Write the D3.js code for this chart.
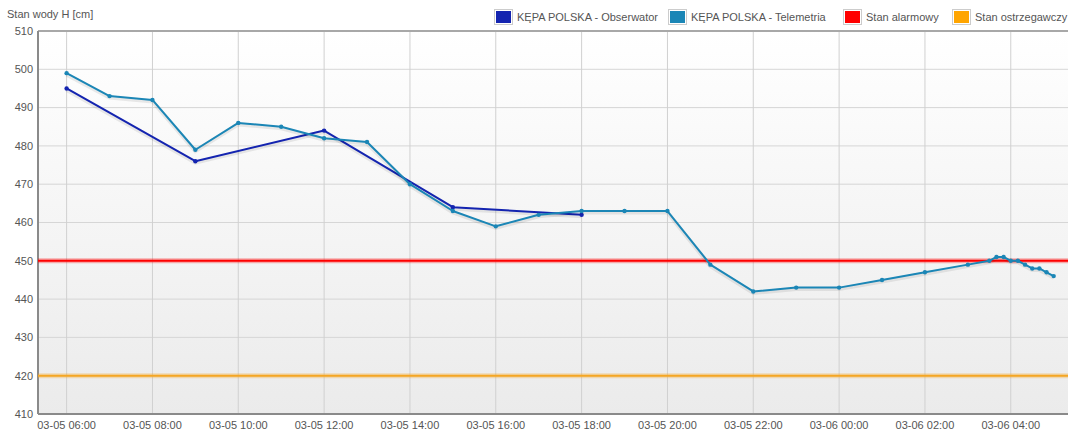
<!DOCTYPE html>
<html>
<head>
<meta charset="utf-8">
<script src="https://cdn.jsdelivr.net/npm/d3@7"></script>
<style>
  body { margin: 0; background: #fff; }
  text { font-family: "Liberation Sans", Arial, sans-serif; font-size: 11px; fill: #555; }
</style>
</head>
<body>
<svg id="chart"></svg>
<script>
// times relative to 03-05 00:00, in hours
const telemetriaTimes = [6, 7, 8, 9, 10, 11, 12, 13, 14, 15, 16, 17, 18, 19, 20, 21, 22, 23, 24, 25, 26, 27,
    27.5, 27 + 40 / 60, 27 + 50 / 60, 28, 28 + 10 / 60, 28 + 20 / 60, 28.5, 28 + 40 / 60, 28 + 50 / 60, 29];
const telemetriaValues = [499, 493, 492, 479, 486, 485, 482, 481, 470, 463, 459, 462, 463, 463, 463, 449, 442, 443, 443, 445, 447, 449,
    450, 451, 451, 450, 450, 449, 448, 448, 447, 446];

const obserwatorTimes = [6, 9, 12, 15, 18];
const obserwatorValues = [495, 476, 484, 464, 462];

const alarmLevel = 450;
const warningLevel = 420;

const yTicks = [410, 420, 430, 440, 450, 460, 470, 480, 490, 500, 510];
const xTickHours = [6, 8, 10, 12, 14, 16, 18, 20, 22, 24, 26, 28];

const legendItems = [
    {label: "KĘPA POLSKA - Obserwator", color: "#1424b0"},
    {label: "KĘPA POLSKA - Telemetria", color: "#1b86b6"},
    {label: "Stan alarmowy", color: "#ff0000"},
    {label: "Stan ostrzegawczy", color: "#ffa500"}
];

const width = 1068, height = 432;
const marginTop = 31, marginRight = 0, marginBottom = 18, marginLeft = 38;

const base = new Date(2024, 2, 5, 0, 0);
const toDate = h => new Date(base.getTime() + h * 3600 * 1000);

const svg = d3.select("#chart")
    .attr("width", width)
    .attr("height", height);

const x = d3.scaleTime()
    .domain([toDate(5 + 20 / 60), toDate(29 + 20 / 60)])
    .range([marginLeft, width - marginRight]);

const y = d3.scaleLinear()
    .domain([410, 510])
    .range([height - marginBottom, marginTop]);

// background gradient
const defs = svg.append("defs");
const grad = defs.append("linearGradient")
    .attr("id", "bg")
    .attr("x1", 0).attr("y1", 0).attr("x2", 0).attr("y2", 1);
grad.append("stop").attr("offset", "0%").attr("stop-color", "#ffffff");
grad.append("stop").attr("offset", "100%").attr("stop-color", "#ebebeb");

svg.append("rect")
    .attr("x", marginLeft)
    .attr("y", marginTop)
    .attr("width", width - marginRight - marginLeft)
    .attr("height", height - marginBottom - marginTop)
    .attr("fill", "url(#bg)");

// grid
svg.append("g")
    .selectAll("line")
    .data(yTicks)
    .join("line")
    .attr("x1", marginLeft).attr("x2", width - marginRight)
    .attr("y1", d => y(d)).attr("y2", d => y(d))
    .attr("stroke", "#d6d6d6");

svg.append("g")
    .selectAll("line")
    .data(xTickHours)
    .join("line")
    .attr("x1", d => x(toDate(d))).attr("x2", d => x(toDate(d)))
    .attr("y1", marginTop).attr("y2", height - marginBottom)
    .attr("stroke", "#d0d0d0");

// border (top, left, bottom)
svg.append("line")
    .attr("x1", marginLeft).attr("x2", width)
    .attr("y1", marginTop).attr("y2", marginTop)
    .attr("stroke", "#a8a8a8").attr("stroke-width", 2);
svg.append("line")
    .attr("x1", marginLeft).attr("x2", width)
    .attr("y1", height - marginBottom).attr("y2", height - marginBottom)
    .attr("stroke", "#8a8a8a").attr("stroke-width", 2);
svg.append("line")
    .attr("x1", marginLeft).attr("x2", marginLeft)
    .attr("y1", marginTop).attr("y2", height - marginBottom)
    .attr("stroke", "#8a8a8a").attr("stroke-width", 2);

// y labels
svg.append("g")
    .selectAll("text")
    .data(yTicks)
    .join("text")
    .attr("x", marginLeft - 5)
    .attr("y", d => y(d))
    .attr("dy", "0.35em")
    .attr("text-anchor", "end")
    .text(d => d);

// x labels
const fmt = d3.timeFormat("%m-%d %H:%M");
svg.append("g")
    .selectAll("text")
    .data(xTickHours)
    .join("text")
    .attr("x", d => x(toDate(d)))
    .attr("y", height - 3)
    .attr("text-anchor", "middle")
    .text(d => fmt(toDate(d)));

// threshold lines
[[alarmLevel, "#ff0000"], [warningLevel, "#f5a623"]].forEach(([v, c]) => {
    svg.append("line")
        .attr("x1", marginLeft).attr("x2", width - marginRight)
        .attr("y1", y(v)).attr("y2", y(v))
        .attr("stroke", c).attr("stroke-opacity", 0.3).attr("stroke-width", 5);
    svg.append("line")
        .attr("x1", marginLeft).attr("x2", width - marginRight)
        .attr("y1", y(v)).attr("y2", y(v))
        .attr("stroke", c).attr("stroke-width", 2);
});

// series
const line = d3.line()
    .x(d => x(toDate(d[0])))
    .y(d => y(d[1]));

function drawSeries(times, values, color) {
    const pts = times.map((t, i) => [t, values[i]]);
    svg.append("path")
        .datum(pts)
        .attr("fill", "none")
        .attr("stroke", "#000")
        .attr("stroke-opacity", 0.08)
        .attr("stroke-width", 4)
        .attr("transform", "translate(0,1.5)")
        .attr("d", line);
    svg.append("path")
        .datum(pts)
        .attr("fill", "none")
        .attr("stroke", color)
        .attr("stroke-width", 2)
        .attr("stroke-linejoin", "round")
        .attr("d", line);
    svg.append("g")
        .selectAll("circle")
        .data(pts)
        .join("circle")
        .attr("cx", d => x(toDate(d[0])))
        .attr("cy", d => y(d[1]))
        .attr("r", 2.2)
        .attr("fill", color);
}

drawSeries(obserwatorTimes, obserwatorValues, "#1424b0");
drawSeries(telemetriaTimes, telemetriaValues, "#1b86b6");

// axis title
svg.append("text")
    .attr("x", 7)
    .attr("y", 18)
    .text("Stan wody H [cm]");

// legend
const legendX = [494, 668, 843, 952];
const legend = svg.append("g")
    .selectAll("g")
    .data(legendItems)
    .join("g")
    .attr("transform", (d, i) => `translate(${legendX[i]}, 9)`);
legend.append("rect")
    .attr("x", 0.5).attr("y", 0.5)
    .attr("width", 18).attr("height", 15)
    .attr("fill", "#fff")
    .attr("stroke", "#ccc");
legend.append("rect")
    .attr("x", 2).attr("y", 2)
    .attr("width", 15).attr("height", 12)
    .attr("fill", d => d.color);
legend.append("text")
    .attr("x", 23)
    .attr("y", 12)
    .text(d => d.label);
</script>
</body>
</html>
